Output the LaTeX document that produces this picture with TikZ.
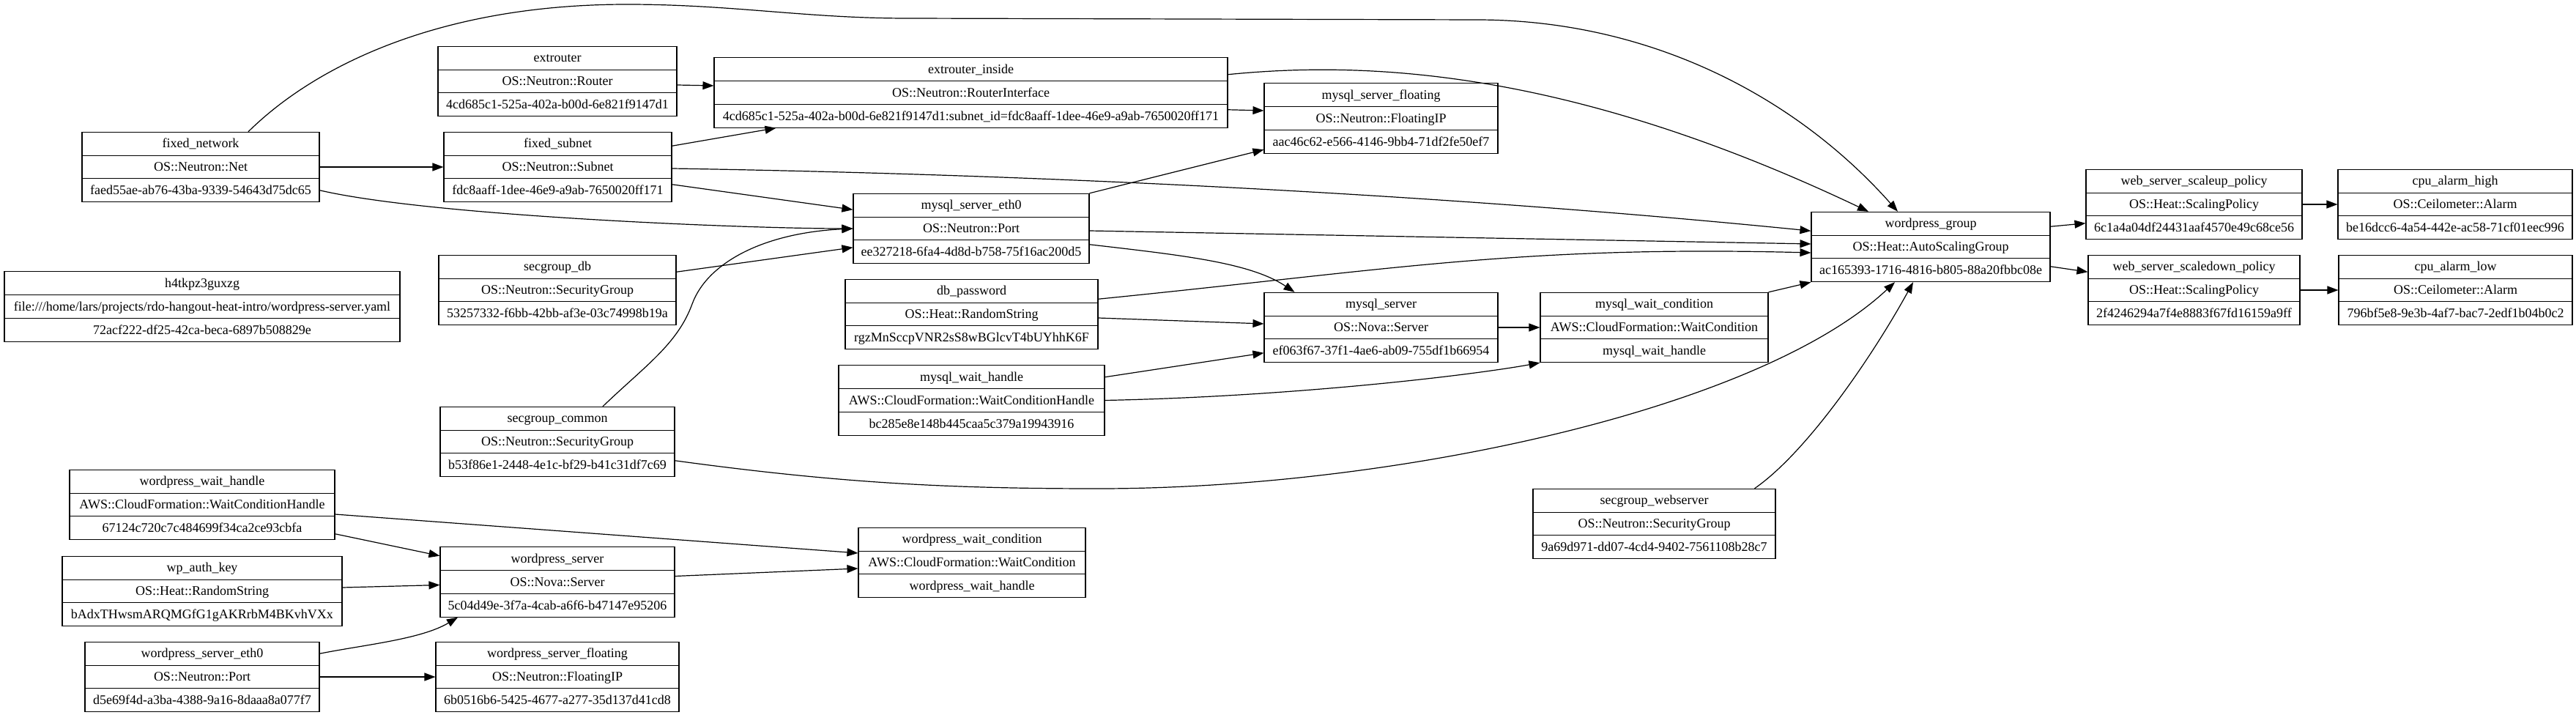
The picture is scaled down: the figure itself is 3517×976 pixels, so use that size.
\documentclass[tikz,border=0pt]{standalone}
\usepackage{fontspec}
\setmainfont{Liberation Serif}
\usetikzlibrary{shapes.multipart,arrows.meta}
\newcommand{\rowstrut}{\rule[-9.6pt]{0pt}{30.67pt}}
\newcommand{\heatres}[3]{#1\rowstrut\nodepart{two}#2\rowstrut\nodepart{three}#3\rowstrut}

\begin{document}
\begin{tikzpicture}[x=1pt,y=-1pt,
    res/.style={draw,line width=1.1pt,rectangle split,rectangle split parts=3,inner xsep=3pt,inner ysep=0pt,minimum width=#1,font=\fontsize{18pt}{20pt}\selectfont},
    dep/.style={-{Triangle[length=15pt,width=11pt]},line width=1.2pt}]
    \useasboundingbox (0,0) rectangle (3517,976);
    \node[res=324pt] (fn) at (274,228) {\heatres{fixed\_network}{OS::Neutron::Net}{faed55ae-ab76-43ba-9339-54643d75dc65}};
    \node[res=326pt] (er) at (761,111) {\heatres{extrouter}{OS::Neutron::Router}{4cd685c1-525a-402a-b00d-6e821f9147d1}};
    \node[res=701pt] (ei) at (1325.5,126.5) {\heatres{extrouter\_inside}{OS::Neutron::RouterInterface}{4cd685c1-525a-402a-b00d-6e821f9147d1:subnet\_id=fdc8aaff-1dee-46e9-a9ab-7650020ff171}};
    \node[res=311pt] (fs) at (761.5,228) {\heatres{fixed\_subnet}{OS::Neutron::Subnet}{fdc8aaff-1dee-46e9-a9ab-7650020ff171}};
    \node[res=319pt] (msf) at (1885.5,161.5) {\heatres{mysql\_server\_floating}{OS::Neutron::FloatingIP}{aac46c62-e566-4146-9bb4-71df2fe50ef7}};
    \node[res=322pt] (eth0) at (1326,312) {\heatres{mysql\_server\_eth0}{OS::Neutron::Port}{ee327218-6fa4-4d8d-b758-75f16ac200d5}};
    \node[res=324pt] (sdb) at (761,396) {\heatres{secgroup\_db}{OS::Neutron::SecurityGroup}{53257332-f6bb-42bb-af3e-03c74998b19a}};
    \node[res=540pt] (h4) at (276,418.5) {\heatres{h4tkpz3guxzg}{file:///home/lars/projects/rdo-hangout-heat-intro/wordpress-server.yaml}{72acf222-df25-42ca-beca-6897b508829e}};
    \node[res=345pt] (dp) at (1326.5,429) {\heatres{db\_password}{OS::Heat::RandomString}{rgzMnSccpVNR2sS8wBGlcvT4bUYhhK6F}};
    \node[res=363pt] (mwh) at (1326.5,546.5) {\heatres{mysql\_wait\_handle}{AWS::CloudFormation::WaitConditionHandle}{bc285e8e148b445caa5c379a19943916}};
    \node[res=319pt] (ms) at (1885.5,447) {\heatres{mysql\_server}{OS::Nova::Server}{ef063f67-37f1-4ae6-ab09-755df1b66954}};
    \node[res=311pt] (mwc) at (2258.5,447) {\heatres{mysql\_wait\_condition}{AWS::CloudFormation::WaitCondition}{mysql\_wait\_handle}};
    \node[res=326pt] (wg) at (2636,337) {\heatres{wordpress\_group}{OS::Heat::AutoScalingGroup}{ac165393-1716-4816-b805-88a20fbbc08e}};
    \node[res=295pt] (su) at (2995.5,279) {\heatres{web\_server\_scaleup\_policy}{OS::Heat::ScalingPolicy}{6c1a4a04df24431aaf4570e49c68ce56}};
    \node[res=320pt] (cah) at (3352,279) {\heatres{cpu\_alarm\_high}{OS::Ceilometer::Alarm}{be16dcc6-4a54-442e-ac58-71cf01eec996}};
    \node[res=289pt] (sd) at (2995.5,396) {\heatres{web\_server\_scaledown\_policy}{OS::Heat::ScalingPolicy}{2f4246294a7f4e8883f67fd16159a9ff}};
    \node[res=319pt] (cal) at (3352.5,396) {\heatres{cpu\_alarm\_low}{OS::Ceilometer::Alarm}{796bf5e8-9e3b-4af7-bac7-2edf1b04b0c2}};
    \node[res=320pt] (sc) at (761,603) {\heatres{secgroup\_common}{OS::Neutron::SecurityGroup}{b53f86e1-2448-4e1c-bf29-b41c31df7c69}};
    \node[res=362pt] (wwh) at (276,689) {\heatres{wordpress\_wait\_handle}{AWS::CloudFormation::WaitConditionHandle}{67124c720c7c484699f34ca2ce93cbfa}};
    \node[res=382pt] (wp) at (276,807) {\heatres{wp\_auth\_key}{OS::Heat::RandomString}{bAdxTHwsmARQMGfG1gAKRrbM4BKvhVXx}};
    \node[res=320pt] (wse) at (276,924) {\heatres{wordpress\_server\_eth0}{OS::Neutron::Port}{d5e69f4d-a3ba-4388-9a16-8daaa8a077f7}};
    \node[res=320pt] (ws) at (761,794.5) {\heatres{wordpress\_server}{OS::Nova::Server}{5c04d49e-3f7a-4cab-a6f6-b47147e95206}};
    \node[res=332pt] (wsf) at (761,924) {\heatres{wordpress\_server\_floating}{OS::Neutron::FloatingIP}{6b0516b6-5425-4677-a277-35d137d41cd8}};
    \node[res=310pt] (wwc) at (1327,768) {\heatres{wordpress\_wait\_condition}{AWS::CloudFormation::WaitCondition}{wordpress\_wait\_handle}};
    \node[res=331pt] (sw) at (2258.5,715) {\heatres{secgroup\_webserver}{OS::Neutron::SecurityGroup}{9a69d971-dd07-4cd4-9402-7561108b28c7}};
    \draw[dep] ([xshift=65pt]fn.north) .. controls (430,90) and (600,6) .. (856,6) .. controls (1000,6) and (1100,25) .. (1239,25) -- (2016,27) .. controls (2250,27) and (2450,130) .. ([xshift=-45pt]wg.north);
    \draw[dep] (fn.two east) -- (fs.two west);
    \draw[dep] (fn.three east) .. controls +(150,35) and +(-150,0) .. (eth0.two west);
    \draw[dep] ([yshift=-3pt]fs.text east) -- ([xshift=-266pt]ei.south);
    \draw[dep] ([yshift=-2pt]fs.two east) .. controls +(500,8) and +(-500,-50) .. ([yshift=-10pt]wg.text west);
    \draw[dep] ([yshift=8pt]fs.three east) -- ([yshift=-6pt]eth0.text west);
    \draw[dep] ([yshift=-5pt]er.two east) -- ([yshift=9.5pt]ei.two west);
    \draw[dep] ([yshift=-7pt]ei.text east) .. controls +(200,-20) and +(-400,-190) .. ([xshift=-85pt]wg.north);
    \draw[dep] ([yshift=8.5pt]ei.three east) -- ([yshift=10.5pt]msf.two west);
    \draw[dep] (eth0.north east) -- ([yshift=-11pt]msf.three west);
    \draw[dep] ([yshift=-3pt]eth0.two east) -- ([yshift=4pt]wg.two west);
    \draw[dep] ([yshift=10pt]eth0.three east) .. controls +(130,15) and +(-60,-40) .. ([xshift=-118pt]ms.north);
    \draw[dep] ([yshift=-7pt]sdb.text east) -- ([yshift=6pt]eth0.three west);
    \draw[dep] ([xshift=62pt]sc.north) .. controls (880,500) and (925,470) .. (945,415) .. controls (965,360) and (1040,318) .. (eth0.two west);
    \draw[dep] ([yshift=6pt]sc.three east) .. controls (1150,660) and (1300,667) .. (1500,667) .. controls (1900,667) and (2400,560) .. ([xshift=-49pt]wg.south);
    \draw[dep] ([yshift=-11pt]dp.text east) .. controls +(400,-40) and +(-400,-10) .. ([yshift=-8pt]wg.two west);
    \draw[dep] ([yshift=-5pt]dp.two east) -- ([yshift=5pt]ms.two west);
    \draw[dep] (mwh.text east) -- ([yshift=-3pt]ms.three west);
    \draw[dep] (mwh.two east) .. controls +(250,-5) and +(-100,18) .. (mwc.south west);
    \draw[dep] (ms.two east) -- (mwc.two west);
    \draw[dep] (mwc.north east) -- (wg.south west);
    \draw[dep] ([xshift=137pt]sw.north) .. controls (2470,615) and (2560,480) .. ([xshift=-24pt]wg.south);
    \draw[dep] ([yshift=-4pt]wg.text east) -- ([yshift=6pt]su.three west);
    \draw[dep] ([yshift=5pt]wg.three east) -- ([yshift=-7pt]sd.text west);
    \draw[dep] (su.two east) -- (cah.two west);
    \draw[dep] (sd.two east) -- (cal.two west);
    \draw[dep] ([yshift=-13pt]wwh.two east) -- ([yshift=13pt]wwc.two west);
    \draw[dep] ([yshift=-8pt]wwh.three east) -- ([yshift=4pt]ws.text west);
    \draw[dep] ([yshift=5pt]wp.two east) -- ([yshift=-4pt]ws.two west);
    \draw[dep] (wse.text east) .. controls +(60,-12) and +(-50,30) .. ([xshift=-136pt]ws.south);
    \draw[dep] (wse.two east) -- (wsf.two west);
    \draw[dep] ([yshift=8pt]ws.two east) -- ([yshift=-8pt]wwc.two west);
  \end{tikzpicture}
\end{document}
